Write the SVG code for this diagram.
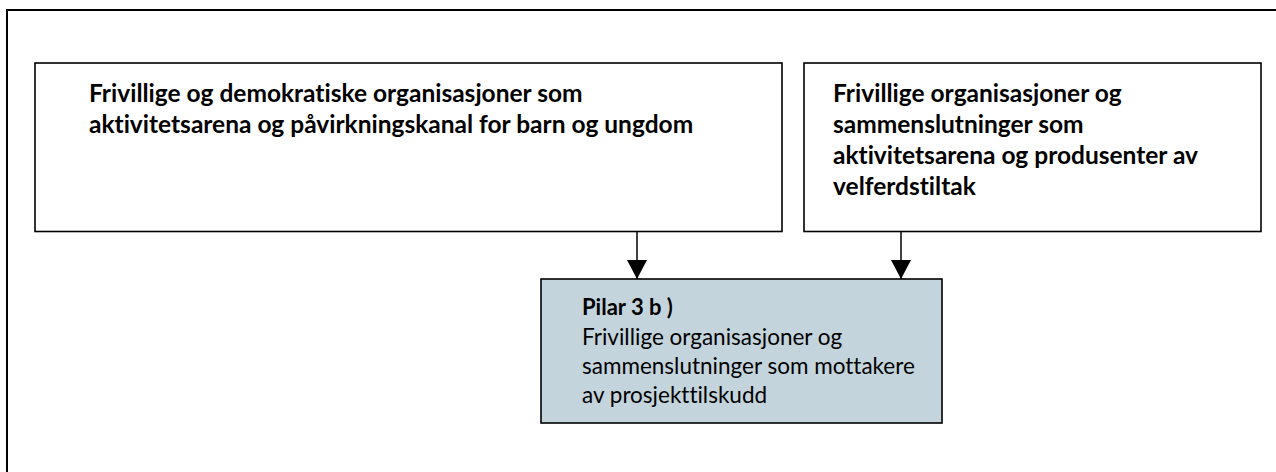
<svg xmlns="http://www.w3.org/2000/svg" width="1276" height="472" viewBox="0 0 1276 472">
<style>
.frame{fill:none;stroke:#000;stroke-width:2}
.box{fill:#fff;stroke:#000;stroke-width:1.6}
.blue{fill:#c4d4dd;stroke:#000;stroke-width:1.6}
text{font-family:Lato,"Liberation Sans",sans-serif;fill:#000;font-variant-ligatures:none}
.b{font-weight:bold;font-size:24.5px}
.r{font-size:22.5px}
.rb{font-weight:bold;font-size:22px}
.conn{stroke:#000;stroke-width:1.5;fill:none}
</style>
<defs>
<marker id="ah" markerUnits="userSpaceOnUse" markerWidth="20" markerHeight="20" refX="19" refY="10" orient="auto">
<path d="M0,0 L19,10 L0,20 Z" fill="#000"/>
</marker>
</defs>
<path class="frame" d="M7,472 V10 H1276"/>
<g id="node-left">
<rect class="box" x="35" y="63" width="747" height="168.5"/>
<text class="b" x="89" y="102">Frivillige og demokratiske organisasjoner som</text>
<text class="b" x="89" y="133">aktivitetsarena og påvirkningskanal for barn og ungdom</text>
</g>
<g id="node-right">
<rect class="box" x="804" y="63" width="457" height="168.5"/>
<text class="b" x="833" y="102">Frivillige organisasjoner og</text>
<text class="b" x="833" y="133">sammenslutninger som</text>
<text class="b" x="833" y="164">aktivitetsarena og produsenter av</text>
<text class="b" x="833" y="195">velferdstiltak</text>
</g>
<g id="node-pilar">
<rect class="blue" x="541" y="279" width="401" height="144"/>
<text class="rb" x="582" y="315">Pilar 3 b )</text>
<text class="r" x="582" y="345">Frivillige organisasjoner og</text>
<text class="r" x="582" y="374">sammenslutninger som mottakere</text>
<text class="r" x="582" y="403">av prosjekttilskudd</text>
</g>
<g id="connectors">
<line class="conn" x1="637" y1="232" x2="637" y2="279" marker-end="url(#ah)"/>
<line class="conn" x1="901" y1="232" x2="901" y2="279" marker-end="url(#ah)"/>
</g>
</svg>
